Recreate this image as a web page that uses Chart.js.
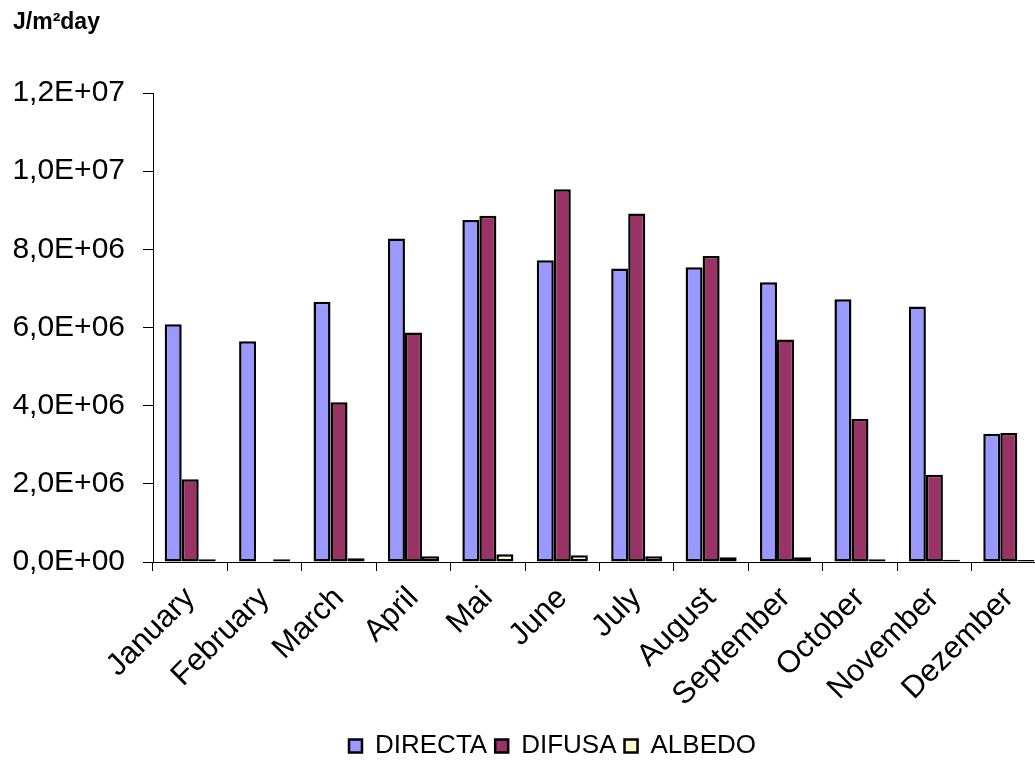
<!DOCTYPE html>
<html>
<head>
<meta charset="utf-8">
<script src="https://cdn.jsdelivr.net/npm/chart.js@4"></script>
<style>
  html, body { margin: 0; padding: 0; background: #fff; overflow: hidden; }
  canvas { display: block; }
</style>
</head>
<body>
<canvas id="chart" width="1046" height="762"></canvas>
<script>
// months as written on the chart
const months = ['January', 'February', 'March', 'April', 'Mai', 'June', 'July',
    'August', 'September', 'October', 'November', 'Dezember'];

// J/m2day
const directa = [6.08e6, 5.65e6, 6.66e6, 8.28e6, 8.75e6, 7.72e6, 7.51e6, 7.54e6, 7.16e6, 6.72e6, 6.54e6, 3.28e6];
const difusa  = [2.12e6, 0, 4.09e6, 5.87e6, 8.86e6, 9.54e6, 8.92e6, 7.83e6, 5.69e6, 3.66e6, 2.23e6, 3.30e6];
const albedo  = [0.07e6, 0.07e6, 0.095e6, 0.15e6, 0.20e6, 0.17e6, 0.15e6, 0.12e6, 0.12e6, 0.07e6, 0.06e6, 0.05e6];

const yMin = 0;
const yMax = 1.2e7;
const yStep = 2e6;

const font = 'Arial, "Liberation Sans", sans-serif';

// 1,2E+07 style
function sciLabel(v) {
    let s = Number(v).toExponential(1);
    let parts = s.split('e');
    let exp = parseInt(parts[1], 10);
    let sign = exp < 0 ? '-' : '+';
    let e = String(Math.abs(exp)).padStart(2, '0');
    return parts[0].replace('.', ',') + 'E' + sign + e;
}

function makeSet(label, data, color) {
    return {
        label: label,
        data: data,
        backgroundColor: color,
        borderColor: '#000',
        borderWidth: 2.5,
        borderSkipped: false,
        categoryPercentage: 0.686,
        barPercentage: 1.0
    };
}

// the legend sits a bit right of the middle in the original
const legendShift = {
    id: 'legendShift',
    afterLayout: function (chart) {
        chart.legend.left += 23;
        chart.legend.right += 23;
    }
};

let ctx = document.getElementById('chart').getContext('2d');
let chart = new Chart(ctx, {
    type: 'bar',
    data: {
        labels: months,
        datasets: [
            makeSet('DIRECTA', directa, '#9999FF'),
            makeSet('DIFUSA', difusa, '#993366'),
            makeSet('ALBEDO', albedo, '#FFFFCC')
        ]
    },
    options: {
        responsive: false,
        devicePixelRatio: 1,
        animation: false,
        layout: { padding: { left: 13, right: 0, top: 0, bottom: -7 } },
        plugins: {
            title: {
                display: true,
                text: 'J/m²day',
                align: 'start',
                color: '#000',
                font: { family: font, size: 23, weight: 'bold' },
                padding: { top: 9, bottom: 56.4 }
            },
            legend: {
                position: 'bottom',
                labels: {
                    color: '#000',
                    font: { family: font, size: 26 },
                    boxWidth: 13,
                    boxHeight: 13,
                    padding: 8
                }
            },
            tooltip: { enabled: false }
        },
        scales: {
            x: {
                grid: {
                    offset: true,
                    drawOnChartArea: false,
                    color: '#000',
                    tickLength: 9
                },
                border: { color: '#000', width: 1 },
                ticks: {
                    color: '#000',
                    padding: 9,
                    font: { family: font, size: 31 },
                    maxRotation: 45,
                    minRotation: 45,
                    autoSkip: false
                },
                afterFit: function (scale) { scale.height = 163; }
            },
            y: {
                min: yMin,
                max: yMax,
                grid: {
                    drawOnChartArea: false,
                    color: '#000',
                    tickLength: 10
                },
                border: { color: '#000', width: 1 },
                ticks: {
                    stepSize: yStep,
                    color: '#000',
                    padding: 18,
                    font: { family: font, size: 30 },
                    callback: function (v) { return sciLabel(v); }
                },
                afterFit: function (scale) { scale.width = 140; }
            }
        }
    },
    plugins: [legendShift]
});
</script>
</body>
</html>
